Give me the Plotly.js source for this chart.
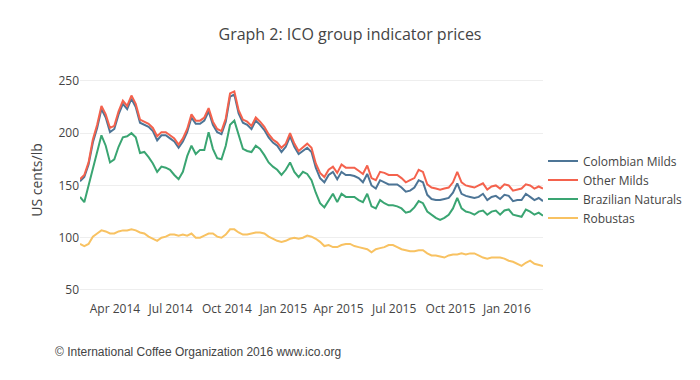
<!DOCTYPE html>
<html>
<head>
<meta charset="utf-8">
<script src="https://cdn.plot.ly/plotly-3.0.1.min.js"></script>
<style>html,body{margin:0;padding:0;background:#fff}#chart{width:700px;height:380px}</style>
</head>
<body>
<div id="chart"></div>
<script>
// Weekly readings, 2014-02-03 .. 2016-02-29
const startDate = "2014-02-03";
const weekCount = 109;

const colombianMilds = [154,158,170,191,205,223,215,201,204,218,228,223,233,225,210,208,206,202,193,198,198,195,192,186,192,201,215,209,209,212,221,208,201,199,211,235,237,219,210,208,204,212,208,203,196,191,188,182,187,197,187,180,183,186,182,167,157,153,160,163,156,163,160,160,159,157,153,161,150,147,155,153,151,151,151,148,144,145,148,155,153,141,137,136,136,137,138,143,152,142,140,139,138,139,142,136,139,140,137,141,140,135,136,136,142,139,136,138,135];

const otherMilds = [156,160,172,194,208,226,218,205,207,221,231,226,236,228,213,211,209,205,197,201,201,198,195,189,195,204,218,212,212,215,224,211,204,202,214,238,240,222,213,211,207,215,211,206,199,194,191,186,190,200,190,183,187,190,186,171,162,158,165,168,162,170,167,167,167,164,161,169,157,155,163,162,160,160,160,157,153,155,157,165,163,151,148,147,146,147,148,153,163,153,150,149,148,150,152,146,149,150,147,151,150,145,146,147,151,150,147,149,147];

const brazilianNaturals = [139,134,150,167,182,198,188,172,175,187,196,197,200,196,181,182,177,171,163,168,167,165,160,156,163,178,188,180,184,184,201,185,176,175,188,208,212,198,185,183,182,188,185,179,172,168,165,160,165,172,163,158,163,161,155,143,133,129,136,142,134,142,139,139,139,136,134,142,130,128,136,133,131,131,130,128,124,125,129,135,133,125,122,119,117,119,122,128,138,128,125,124,122,125,126,122,125,126,122,126,127,122,121,120,127,125,122,124,121];

const robustas = [94,92,94,101,104,107,106,104,104,106,107,107,108,107,105,104,101,99,97,100,101,103,103,102,103,102,104,100,100,102,104,104,101,100,103,108,108,105,103,103,104,105,105,104,101,99,97,96,97,99,100,99,100,102,101,99,96,92,93,91,91,93,94,94,92,91,90,89,86,89,90,91,93,93,91,89,88,87,87,88,88,85,83,83,82,81,83,84,84,85,84,85,85,83,81,80,81,81,81,80,78,77,75,73,76,78,75,74,73];

const seriesNames = ["Colombian Milds","Other Milds","Brazilian Naturals","Robustas"];
const seriesColors = ["#4d7596","#f4624d","#3aa572","#f8c262"];
const yTicks = [50,100,150,200,250];

// build the weekly date axis
const dates = [];
const d0 = new Date(startDate + "T00:00:00Z");
for (let i = 0; i < weekCount; i++) {
  const d = new Date(d0.getTime() + i * 7 * 86400000);
  dates.push(d.toISOString().slice(0,10));
}

const allValues = [colombianMilds, otherMilds, brazilianNaturals, robustas];
const traces = allValues.map((vals, k) => ({
  x: dates, y: vals, type: "scatter", mode: "lines",
  name: seriesNames[k],
  line: {color: seriesColors[k], width: 2}
}));

const layout = {
  width: 700, height: 380,
  margin: {l: 80, r: 157, t: 60, b: 80},
  paper_bgcolor: "#fff", plot_bgcolor: "#fff",
  font: {family: "Open Sans, sans-serif", size: 12, color: "#444"},
  title: {text: "Graph 2: ICO group indicator prices", x: 0.5, xref: "container", y: 0.91, yanchor: "middle",
          font: {family: "Open Sans, sans-serif", size: 16, color: "#444"}},
  xaxis: {type: "date", showgrid: false, zeroline: false, showline: false,
          range: [dates[0], dates[weekCount-1]], tickformat: "%b %Y", dtick: "M3", tick0: "2014-01-01",
          tickfont: {size: 12, color: "#444"}},
  yaxis: {range: [40.4, 270], tickvals: yTicks, showgrid: true, gridcolor: "#eee", zeroline: false,
          title: {text: "US cents/lb", font: {size: 14, color: "#444"}},
          tickfont: {size: 12, color: "#444"}},
  legend: {x: 1.0, xanchor: "left", y: 0.46, yanchor: "middle", font: {size: 12, color: "#444"}, tracegroupgap: 0},
  showlegend: true,
  annotations: [{text: "© International Coffee Organization 2016 www.ico.org", xref: "paper", yref: "paper",
                 x: -0.058, xanchor: "left", y: -0.217, yanchor: "middle", showarrow: false,
                 font: {family: "Liberation Sans, Arial, sans-serif", size: 12, color: "#444"}}]
};

Plotly.newPlot("chart", traces, layout, {displayModeBar: false, staticPlot: true});
</script>
</body>
</html>
